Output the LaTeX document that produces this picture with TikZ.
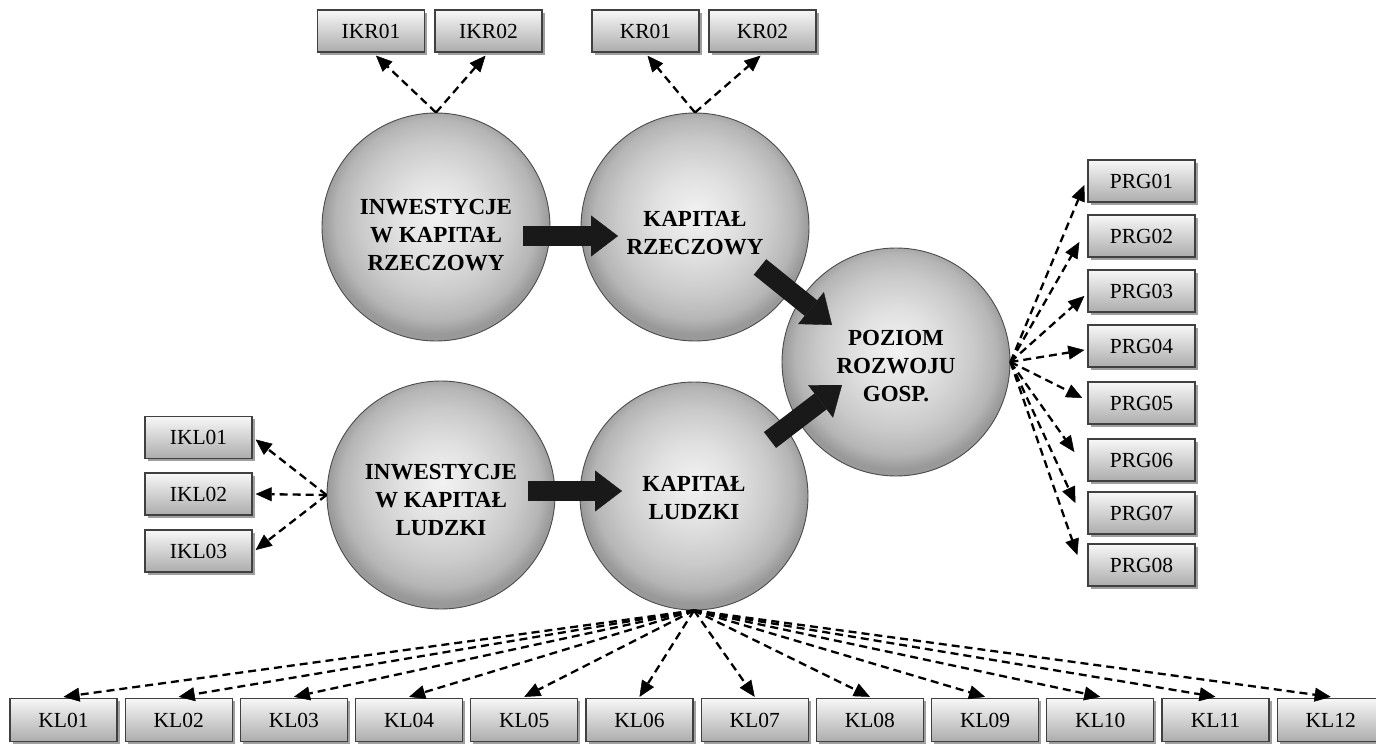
\documentclass[tikz,border=0pt]{standalone}
\usepackage{fontspec}
\setmainfont{Liberation Serif}
\usetikzlibrary{arrows.meta,shadows,calc}
\pgfdeclareradialshading{sphereshade}{\pgfpoint{0bp}{3bp}}{color(0bp)=(gray!10); color(9bp)=(gray!24); color(17bp)=(gray!42); color(22bp)=(gray!58); color(25bp)=(gray!80); color(50bp)=(gray!80)}
\begin{document}
\begin{tikzpicture}[x=1pt,y=-1pt,
  ind/.style={rectangle, draw=black!75, line width=1.3pt, top color=gray!6, bottom color=gray!65,
    minimum width=107pt, minimum height=42pt, inner sep=0pt, font=\fontsize{21.5}{25}\selectfont,
    drop shadow={shadow xshift=2.5pt, shadow yshift=-2.5pt, fill=gray!75, opacity=1}},
  lat/.style={circle, draw=black!70, line width=0.9pt, shading=sphereshade, minimum size=228pt, inner sep=0pt},
  lattext/.style={align=center, inner sep=0pt, font=\fontsize{23}{28}\selectfont\bfseries},
  meas/.style={draw=black, line width=2.3pt, dash pattern=on 8pt off 5pt, -{Triangle[length=16pt,width=14pt,line width=0.5pt]}},
  bigarrow/.style={draw=black!90, line width=20pt, -{Triangle[length=27pt,width=41pt,line width=0.4pt]}}
]
\useasboundingbox (0,0) rectangle (1376,744);
\fill[white] (0,0) rectangle (1376,744);

% latent variables
\node[lat, label={[lattext,yshift=-8pt]center:INWESTYCJE\\W KAPITAŁ\\RZECZOWY}] (ikr) at (436,227) {};
\node[lat, label={[lattext,yshift=-6pt]center:KAPITAŁ\\RZECZOWY}] (kr) at (695,227) {};
\node[lat, label={[lattext,yshift=-4pt]center:POZIOM\\ROZWOJU\\GOSP.}] (prg) at (896,362) {};
\node[lat, label={[lattext,yshift=-5pt]center:INWESTYCJE\\W KAPITAŁ\\LUDZKI}] (ikl) at (441,495) {};
\node[lat, label={[lattext,yshift=-2pt]center:KAPITAŁ\\LUDZKI}] (kl) at (694,496) {};

% indicators top
\node[ind] (ikr01) at (371,31) {IKR01};
\node[ind] (ikr02) at (488.5,31) {IKR02};
\node[ind] (kr01) at (645.5,31) {KR01};
\node[ind] (kr02) at (762.5,31) {KR02};

% indicators left
\node[ind] (ikl01) at (198.5,437.5) {IKL01};
\node[ind] (ikl02) at (198.5,494) {IKL02};
\node[ind] (ikl03) at (198.5,551) {IKL03};

% indicators right
\node[ind] (prg01) at (1141.5,181) {PRG01};
\node[ind] (prg02) at (1141.5,236) {PRG02};
\node[ind] (prg03) at (1141.5,291) {PRG03};
\node[ind] (prg04) at (1141.5,346) {PRG04};
\node[ind] (prg05) at (1141.5,403) {PRG05};
\node[ind] (prg06) at (1141.5,460) {PRG06};
\node[ind] (prg07) at (1141.5,513) {PRG07};
\node[ind] (prg08) at (1141.5,565) {PRG08};

% indicators bottom
\foreach \i [evaluate=\i as \xx using {63.5+115.2*(\i-1)}] in {1,...,12}{
  \node[ind, minimum height=43pt] (kl\i) at (\xx,720) {KL\ifnum\i<10 0\fi\i};
}

% structural arrows
\draw[bigarrow] ($(ikr)+(87,9)$) -- ($(ikr)+(182,9)$);
\draw[bigarrow] ($(ikl)+(87,-4)$) -- ($(ikl)+(181,-4)$);
\draw[bigarrow] ($(kr)+(65,40)$) -- ($(kr)+(137,98)$);
\draw[bigarrow] ($(kl)+(76,-56)$) -- ($(kl)+(148,-111)$);

% measurement arrows
\draw[meas] (ikr.north) -- ($(ikr01.south)+(5,3)$);
\draw[meas] (ikr.north) -- ($(ikr02.south)+(-3,3)$);
\draw[meas] (kr.north) -- ($(kr01.south)+(2,3)$);
\draw[meas] (kr.north) -- ($(kr02.south)+(-2,3)$);

\draw[meas] (ikl.west) -- ($(ikl01.east)+(3,2)$);
\draw[meas] (ikl.west) -- ($(ikl02.east)+(3,0)$);
\draw[meas] (ikl.west) -- ($(ikl03.east)+(3,-1)$);

\draw[meas] (prg.east) -- ($(prg01.west)+(-3,4)$);
\draw[meas] (prg.east) -- ($(prg02.west)+(-8,6)$);
\draw[meas] (prg.east) -- ($(prg03.west)+(-3,5)$);
\draw[meas] (prg.east) -- ($(prg04.west)+(-3,4)$);
\draw[meas] (prg.east) -- ($(prg05.west)+(-5,-5)$);
\draw[meas] (prg.east) -- ($(prg06.west)+(-13,-8)$);
\draw[meas] (prg.east) -- ($(prg07.west)+(-12,-10)$);
\draw[meas] (prg.east) -- ($(prg08.west)+(-10,-10)$);

\foreach \i in {1,...,12}{
  \draw[meas] (kl.south) -- ($(kl\i.north)+(0,-1)$);
}
\end{tikzpicture}
\end{document}
